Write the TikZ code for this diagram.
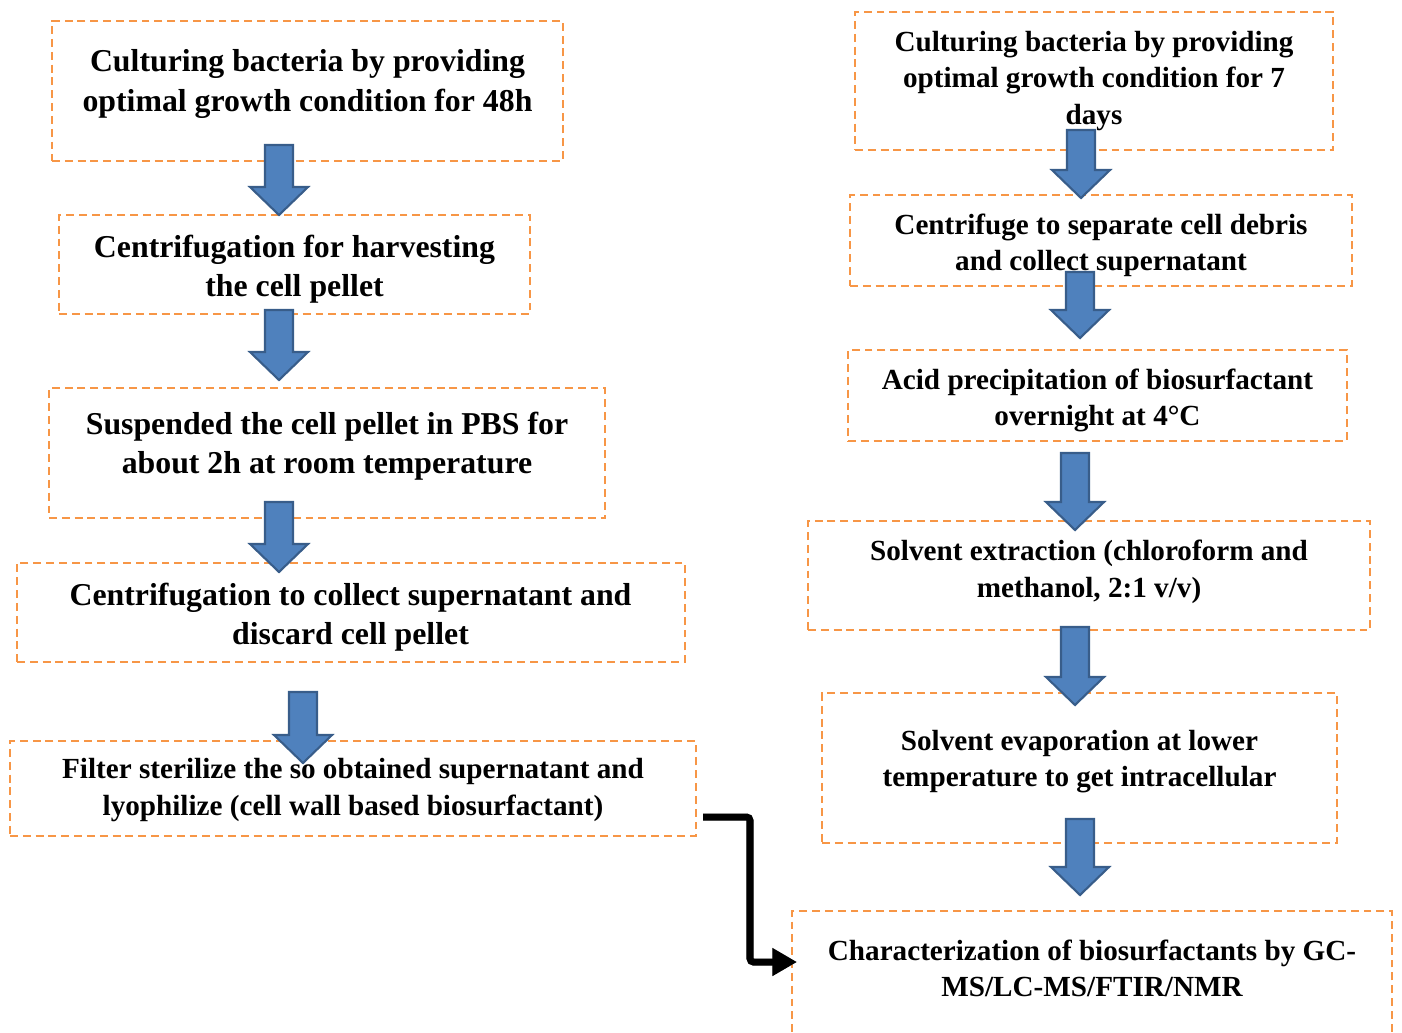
\documentclass[tikz,border=0pt]{standalone}
\usepackage{fontspec}
\setmainfont{Liberation Serif}
\usetikzlibrary{arrows.meta}
\usetikzlibrary{fit}
\definecolor{boxorange}{HTML}{F79646}
\definecolor{arrowblue}{HTML}{4F81BD}
\definecolor{arrowedge}{HTML}{385D8A}

\begin{document}
\begin{tikzpicture}[x=0.02cm, y=-0.02cm,
  stepbox/.style={draw=boxorange, line width=1.1pt, dash pattern=on 4.5pt off 2.8pt, inner sep=0pt},
  bigtext/.style={font=\bfseries\fontsize{18.1}{22.7}\selectfont, align=center, inner sep=0pt, yshift=-1.8pt},
  smalltext/.style={font=\bfseries\fontsize{16.6}{20.7}\selectfont, align=center, inner sep=0pt, yshift=-1.8pt},
  blockarrow/.style={fill=arrowblue, draw=arrowedge, line width=1.2pt, line join=miter},
  elbowarrow/.style={line width=4pt, rounded corners=2pt, arrows={-Triangle[length=14pt, width=15pt]}}]
\useasboundingbox (0,0) rectangle (1402,1032);

\node[stepbox, fit={(52,21) (563,161)}]    (cult48box)  {};
\node[stepbox, fit={(59,215) (530,314)}]   (harvestbox) {};
\node[stepbox, fit={(49,388) (605,518)}]   (suspendbox) {};
\node[stepbox, fit={(17,563) (685,662)}]   (collectbox) {};
\node[stepbox, fit={(10,741) (696,836)}]   (filterbox)  {};
\node[stepbox, fit={(855,12) (1333,150)}]  (cult7box)   {};
\node[stepbox, fit={(850,195) (1352,286)}] (debrisbox)  {};
\node[stepbox, fit={(848,350) (1347,441)}] (acidbox)    {};
\node[stepbox, fit={(808,521) (1370,630)}] (solventbox) {};
\node[stepbox, fit={(822,693) (1337,843)}] (evapbox)    {};
\node[stepbox, fit={(792,911) (1392,1060)}] (charactbox) {};

\node[bigtext] (cult48)  at (307.5,80.5) {Culturing bacteria by providing\\optimal growth condition for 48h};
\node[bigtext] (harvest) at (294.5,266)  {Centrifugation for harvesting\\the cell pellet};
\node[bigtext] (suspend) at (327,443)    {Suspended the cell pellet in PBS for\\about 2h at room temperature};
\node[bigtext] (collect) at (350.5,614)  {Centrifugation to collect supernatant and\\discard cell pellet};
\node[smalltext] (filter)  at (353,787)    {Filter sterilize the so obtained supernatant and\\lyophilize (cell wall based biosurfactant)};
\node[smalltext] (cult7)   at (1094,77.5)  {Culturing bacteria by providing\\optimal growth condition for 7\\days};
\node[smalltext] (debris)  at (1101,242)   {Centrifuge to separate cell debris\\and collect supernatant};
\node[smalltext] (acid)    at (1097.5,397.5) {Acid precipitation of biosurfactant\\overnight at 4°C};
\node[smalltext] (solvent) at (1089,568.5) {Solvent extraction (chloroform and\\methanol, 2:1 v/v)};
\node[smalltext] (evap)    at (1079.5,758.5) {Solvent evaporation at lower\\temperature to get intracellular};
\node[smalltext] (charact) at (1092,965)   {Characterization of biosurfactants by GC-\\MS/LC-MS/FTIR/NMR};

\foreach \cx/\ytop/\ytip in {279/145/215, 279/310/380, 279/502/572, 303/692/763,
    1081/130/198, 1080/272/338, 1075/453/530, 1075/627/705, 1080/819/895}
  \draw[blockarrow] (\cx-14,\ytop) -- (\cx+14,\ytop) -- (\cx+14,\ytip-28) -- (\cx+29,\ytip-28)
    -- (\cx,\ytip) -- (\cx-29,\ytip-28) -- (\cx-14,\ytip-28) -- cycle;

\coordinate (elbowstart) at (703,817);
\coordinate (elbowbend)  at (750,962);
\coordinate (elbowend)   at (797,962);
\draw[elbowarrow, black!25, shift={(3,4)}] (elbowstart) -| (elbowbend) -- (elbowend);
\draw[elbowarrow] (elbowstart) -| (elbowbend) -- (elbowend);
\end{tikzpicture}
\end{document}
